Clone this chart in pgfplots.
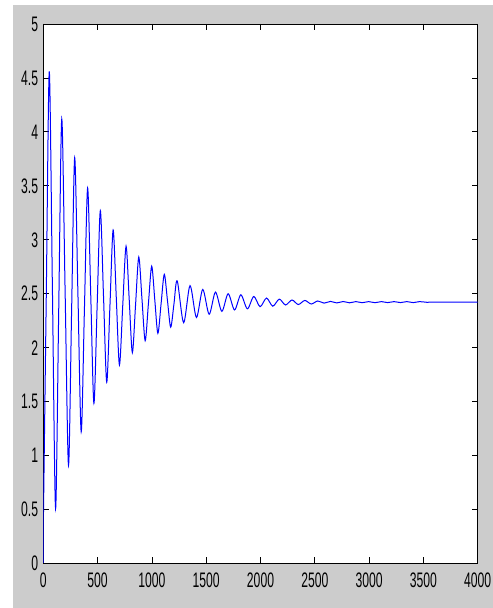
\documentclass[border=0pt]{standalone}
\usepackage{pgfplots}
\pgfplotsset{compat=1.18}
\usepackage{fontspec}
\setmainfont{Liberation Sans}
\definecolor{figgrey}{HTML}{CCCCCC}
\newcommand\tl[1]{\scalebox{0.58}[1]{#1}}
\begin{document}
\begin{tikzpicture}[x=1bp,y=1bp]
\path[use as bounding box] (0,0) rectangle (493,608);
\fill[white] (0,0) rectangle (493,608);
\fill[figgrey] (13,0) rectangle (493,603);
\begin{axis}[
  at={(43.3bp,44.5bp)}, anchor=south west,
  scale only axis, width=434.4bp, height=539.5bp,
  xmin=0, xmax=4000, ymin=0, ymax=5,
  axis background/.style={fill=white},
  axis line style={black, line width=0.8bp},
  tick align=inside, major tick length=6bp,
  tick style={black, line width=0.8bp},
  xtick={0,500,1000,1500,2000,2500,3000,3500,4000},
  xticklabels={\tl{0},\tl{500},\tl{1000},\tl{1500},\tl{2000},\tl{2500},\tl{3000},\tl{3500},\tl{4000}},
  ytick={0,0.5,1,1.5,2,2.5,3,3.5,4,4.5,5},
  yticklabels={\tl{0},\tl{0.5},\tl{1},\tl{1.5},\tl{2},\tl{2.5},\tl{3},\tl{3.5},\tl{4},\tl{4.5},\tl{5}},
  tick label style={font=\fontsize{21bp}{21bp}\selectfont},
  xticklabel style={inner sep=0pt, yshift=-9bp},
  yticklabel style={inner sep=0pt, xshift=-5bp},
  clip=true,
]
\addplot[blue, line width=1bp] coordinates {(0,0) (0,0.33)};
\addplot[blue, line width=1bp, smooth, tension=0.5] coordinates {
(0,0.33) (27,2.45) (55,4.56)
(84,2.535) (113,0.51) (141.5,2.315) (170,4.12) (201,2.515) (232,0.91)
(260.5,2.335) (289,3.76) (319,2.49) (349,1.22) (378.5,2.35) (408,3.48)
(437,2.4825) (466,1.485) (495.5,2.378) (525,3.27) (554.5,2.475) (584,1.68)
(613.5,2.385) (643,3.09) (672,2.465) (701,1.84) (731.5,2.39) (762,2.94)
(791,2.4475) (820,1.955) (849.5,2.3975) (879,2.84) (908.5,2.4525) (938,2.065)
(968,2.41) (998,2.755) (1026.5,2.444) (1055,2.133) (1084.5,2.4065) (1114,2.68)
(1143.5,2.435) (1173,2.19) (1203,2.405) (1233,2.62)
(1292,2.232) (1351,2.575) (1410,2.28) (1468,2.54) (1527,2.31) (1585,2.515)
(1644,2.337) (1702,2.50) (1761,2.35) (1819,2.49) (1879,2.36) (1938,2.475)
(1996,2.38) (2055,2.46) (2113,2.385) (2173,2.45) (2230,2.396) (2290,2.442)
(2348,2.40) (2408,2.438) (2467,2.405) (2527,2.433) (2585,2.413) (2644,2.429)
(2702,2.415) (2761,2.428) (2820,2.416) (2878,2.427) (2937,2.417) (2996,2.427)
(3054,2.417) (3113,2.427) (3171,2.418) (3230,2.427) (3289,2.418) (3347,2.427)
(3406,2.418) (3465,2.427) (3530,2.421) (3600,2.422) (4000,2.422)
};
\end{axis}
\end{tikzpicture}
\end{document}
